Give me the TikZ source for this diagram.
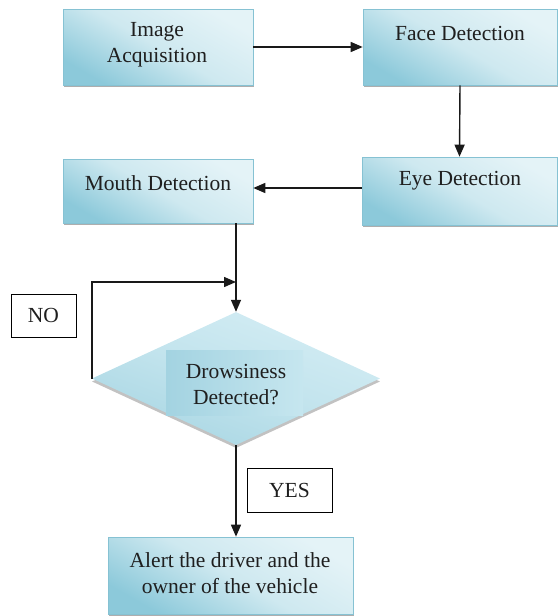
\documentclass[tikz,border=0pt]{standalone}
\usepackage{fontspec}
\setmainfont{Liberation Serif}
\usetikzlibrary{arrows.meta,shapes.geometric,shadows,calc}
\definecolor{bdark}{HTML}{8CC9DA}
\definecolor{blight}{HTML}{E4F3F7}
\definecolor{bedge}{HTML}{86C2D3}
\definecolor{dtop}{HTML}{D4EDF4}
\definecolor{dbot}{HTML}{A8D6E3}
\definecolor{itop}{HTML}{A3D3E1}
\definecolor{ibot}{HTML}{C6E6EF}
\begin{document}
\begin{tikzpicture}[x=1pt,y=-1pt,
  box/.style={rectangle, draw=bedge, line width=0.6pt,
    top color=blight, bottom color=bdark, middle color=blight!75!bdark, shading angle=-30,
    drop shadow={shadow xshift=1pt, shadow yshift=-2pt, fill=black!45, opacity=0.7},
    inner sep=0pt},
  lbl/.style={font=\fontsize{21.5}{26}\selectfont, align=center, inner sep=0pt, text=black!88},
  tag/.style={rectangle, draw=black, line width=1pt, fill=white, inner sep=0pt,
    font=\fontsize{21.5}{26}\selectfont, text=black!88},
  dia/.style={diamond, inner sep=0pt, minimum width=288pt, minimum height=133pt,
    top color=dtop, bottom color=dbot, middle color=dtop!60!dbot, shading angle=-20,
    drop shadow={shadow xshift=0pt, shadow yshift=-3pt, fill=black!40, opacity=0.6}},
  inner/.style={rectangle, inner sep=0pt, left color=itop, right color=ibot},
  ln/.style={line width=1.4pt, draw=black!90},
  arr/.style={ln, -{Triangle[length=12pt,width=10pt]}}
]
\useasboundingbox (0,0) rectangle (558,616);

% boxes
\node[box, minimum width=190pt, minimum height=76pt] (acq) at (158,47) {};
\node[box, minimum width=194pt, minimum height=76pt] (face) at (460,47) {};
\node[box, minimum width=195pt, minimum height=68pt] (eye) at (459.5,191) {};
\node[box, minimum width=190pt, minimum height=64pt] (mouth) at (158,191) {};
\node[box, minimum width=245pt, minimum height=77pt] (alert) at (230.5,575.5) {};
\node[dia] (dec) at (236,378.5) {};
\node[inner, minimum width=137pt, minimum height=65pt] (decin) at (234.5,382.5) {};

% texts
\node[lbl] (acqt) at (157,45) {Image\\Acquisition};
\node[lbl] (facet) at (460,33) {Face Detection};
\node[lbl] (eyet) at (460,181) {Eye Detection};
\node[lbl] (moutht) at (158,183) {Mouth Detection};
\node[lbl] (dect) at (236,385) {Drowsiness\\Detected?};
\node[lbl] (alertt) at (230,573) {Alert the driver and the\\owner of the vehicle};

% tags
\node[tag, minimum width=65pt, minimum height=43pt] (no) at (43.5,315.5) {NO};
\node[tag, minimum width=85pt, minimum height=44pt] (yes) at (289.5,490) {YES};

% connectors
\coordinate (mdrop) at (dec.north |- mouth.south);
\coordinate (j) at (236,282);
\draw[arr] (acq.east) -- (face.west);
\draw[arr] (face.south) -- (eye.north);
\draw[arr] ([yshift=3pt]eye.west) -- ([yshift=3pt]mouth.east);
\draw[arr] (mdrop) -- (dec.north);
\draw[arr] (dec.west) |- (j);
\draw[arr] (dec.south) -- (dec.south |- alert.north);
\end{tikzpicture}
\end{document}
